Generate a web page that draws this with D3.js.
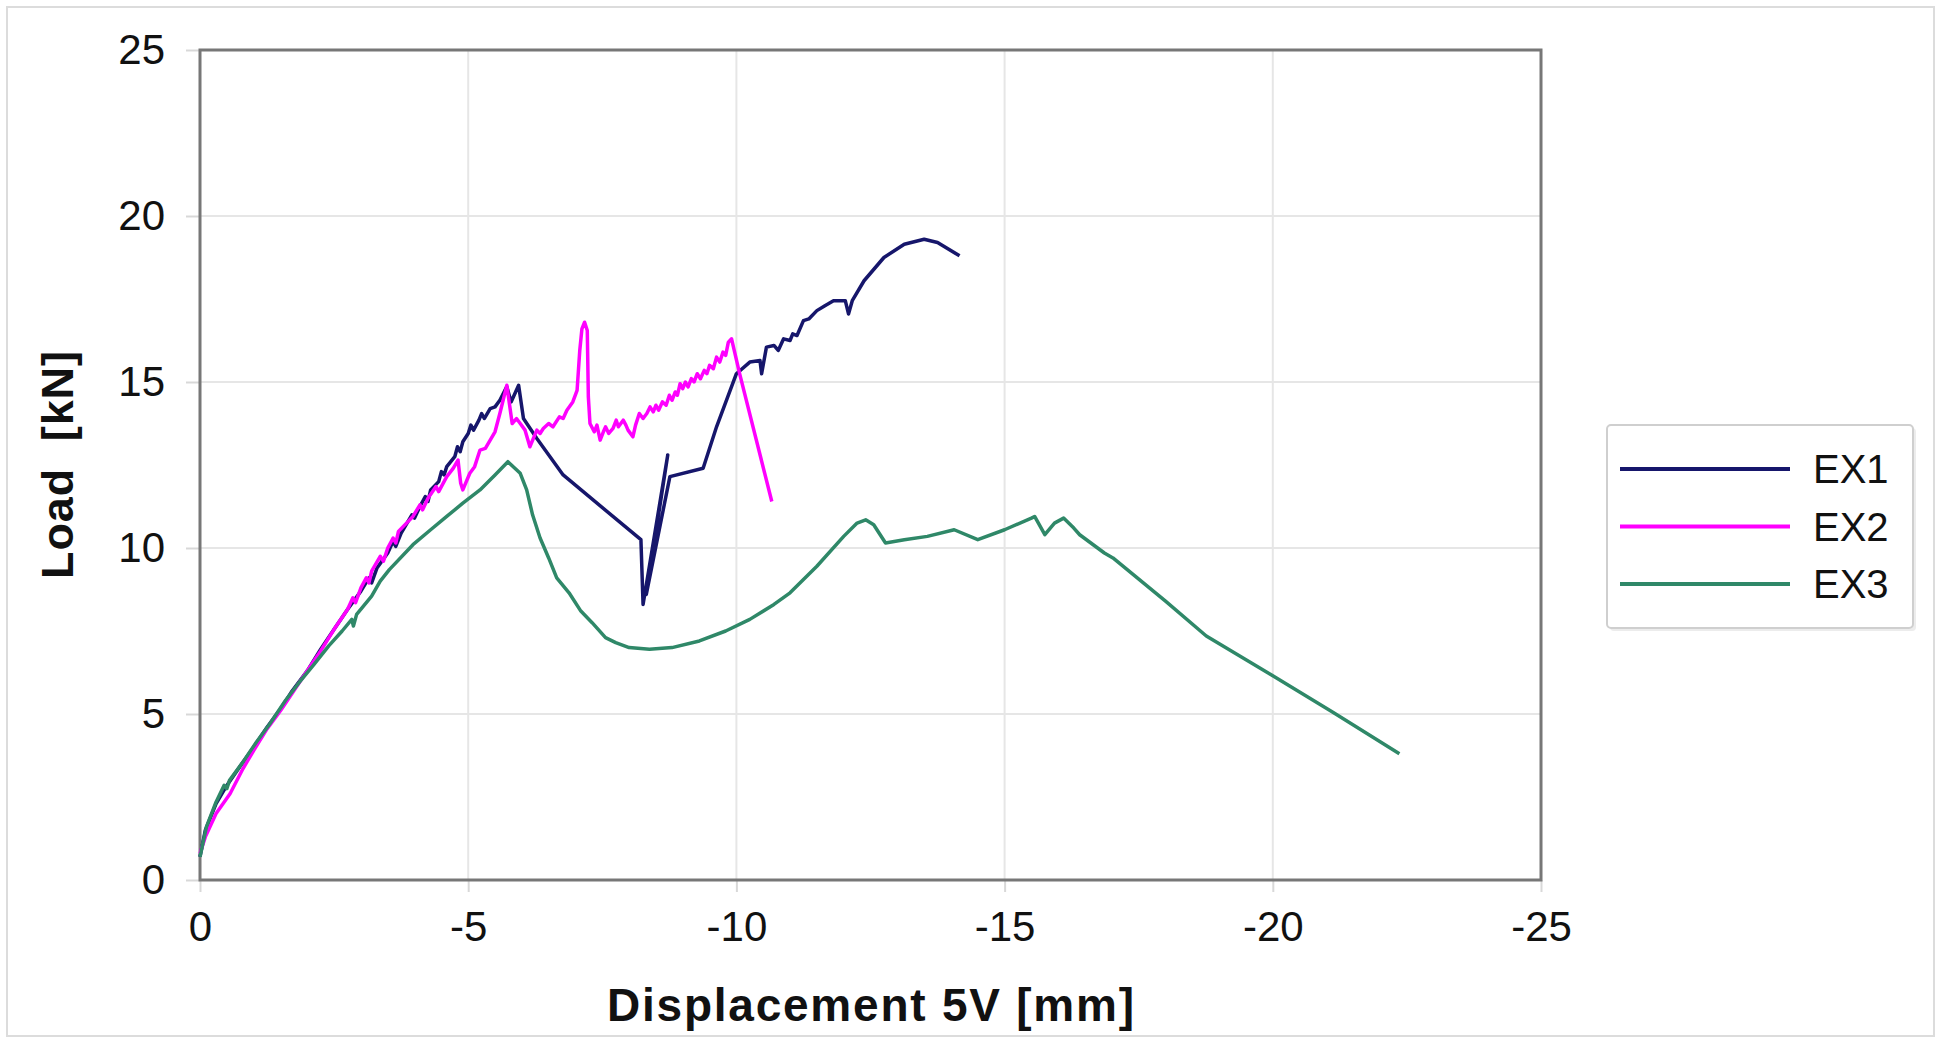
<!DOCTYPE html>
<html>
<head>
<meta charset="utf-8">
<script src="https://cdn.jsdelivr.net/npm/d3@7"></script>
<style>
  body { margin: 0; background: #fff; }
  text { font-family: "Liberation Sans", Arial, sans-serif; fill: #111; }
</style>
</head>
<body>
<div id="chart"></div>
<script>
var width = 1939,
    height = 1042;

// tick values
var xTicks = [0, -5, -10, -15, -20, -25];
var yTicks = [0, 5, 10, 15, 20, 25];

var seriesNames = ["EX1", "EX2", "EX3"];
var seriesColors = ["#16166b", "#ff00ff", "#2f8868"];

// [displacement, load]
var ex1 = [[0, 0.7], [-0.1, 1.5], [-0.3, 2.3], [-0.5, 2.85], [-0.8, 3.55], [-1.0, 4.0], [-1.25, 4.6],
    [-1.5, 5.15], [-1.7, 5.65], [-2.0, 6.3], [-2.25, 6.95], [-2.5, 7.55], [-2.75, 8.15], [-3.0, 8.7],
    [-3.15, 9.1], [-3.2, 8.95], [-3.3, 9.4], [-3.5, 9.85], [-3.6, 10.2], [-3.65, 10.05], [-3.75, 10.45],
    [-3.95, 11.0], [-4.0, 10.9], [-4.1, 11.25], [-4.2, 11.55], [-4.25, 11.4], [-4.3, 11.75], [-4.45, 12.0],
    [-4.5, 12.3], [-4.55, 12.2], [-4.6, 12.45], [-4.75, 12.75], [-4.8, 13.05], [-4.85, 12.9], [-4.9, 13.2],
    [-5.0, 13.45], [-5.05, 13.7], [-5.1, 13.55], [-5.2, 13.85], [-5.25, 14.05], [-5.3, 13.9], [-5.41, 14.2],
    [-5.5, 14.25], [-5.59, 14.45], [-5.72, 14.86], [-5.8, 14.4], [-5.94, 14.9], [-6.03, 13.9],
    [-6.28, 13.3], [-6.77, 12.2], [-8.22, 10.25], [-8.26, 8.3], [-8.72, 12.8], [-8.32, 8.6], [-8.76, 12.15],
    [-9.38, 12.4], [-9.63, 13.65], [-10.0, 15.25], [-10.25, 15.6], [-10.44, 15.65], [-10.47, 15.25],
    [-10.56, 16.05], [-10.7, 16.1], [-10.78, 15.95], [-10.88, 16.3], [-11.0, 16.25], [-11.05, 16.45],
    [-11.13, 16.4], [-11.25, 16.85], [-11.35, 16.9], [-11.5, 17.15], [-11.65, 17.3], [-11.81, 17.45],
    [-12.03, 17.45], [-12.09, 17.05], [-12.16, 17.45], [-12.38, 18.05], [-12.75, 18.75], [-13.13, 19.15],
    [-13.5, 19.3], [-13.75, 19.2], [-14.16, 18.8]];

var ex2 = [[0, 0.8], [-0.1, 1.3], [-0.3, 2.0], [-0.56, 2.6], [-0.8, 3.35], [-1.0, 3.9], [-1.25, 4.55],
    [-1.5, 5.1], [-1.75, 5.7], [-2.0, 6.3], [-2.25, 6.9], [-2.5, 7.55], [-2.75, 8.15], [-2.85, 8.5],
    [-2.9, 8.35], [-3.0, 8.8], [-3.1, 9.1], [-3.15, 8.95], [-3.2, 9.3], [-3.36, 9.75], [-3.42, 9.6],
    [-3.5, 10.0], [-3.6, 10.3], [-3.65, 10.15], [-3.7, 10.5], [-3.85, 10.75], [-3.97, 10.95], [-4.1, 11.3],
    [-4.15, 11.15], [-4.25, 11.5], [-4.4, 11.85], [-4.45, 11.7], [-4.6, 12.15], [-4.72, 12.4], [-4.81, 12.65],
    [-4.86, 11.95], [-4.9, 11.75], [-5.03, 12.25], [-5.12, 12.45], [-5.22, 12.95], [-5.32, 13.0], [-5.41, 13.25],
    [-5.5, 13.5], [-5.59, 14.05], [-5.72, 14.9], [-5.82, 13.75], [-5.9, 13.9], [-5.97, 13.75], [-6.06, 13.55],
    [-6.15, 13.05], [-6.28, 13.55], [-6.34, 13.45], [-6.4, 13.6], [-6.5, 13.75], [-6.58, 13.65], [-6.7, 13.95],
    [-6.77, 13.9], [-6.84, 14.15], [-6.95, 14.4], [-7.03, 14.75], [-7.08, 15.95], [-7.12, 16.6], [-7.17, 16.8],
    [-7.22, 16.55], [-7.24, 14.55], [-7.27, 13.75], [-7.35, 13.5], [-7.4, 13.7], [-7.46, 13.25], [-7.52, 13.5],
    [-7.56, 13.65], [-7.62, 13.45], [-7.7, 13.6], [-7.76, 13.85], [-7.8, 13.65], [-7.89, 13.85], [-7.94, 13.7],
    [-7.98, 13.55], [-8.07, 13.35], [-8.12, 13.7], [-8.19, 14.05], [-8.26, 13.9], [-8.33, 14.05],
    [-8.39, 14.25], [-8.45, 14.1], [-8.5, 14.3], [-8.55, 14.15], [-8.62, 14.4], [-8.69, 14.3], [-8.75, 14.6],
    [-8.8, 14.45], [-8.86, 14.7], [-8.9, 14.6], [-8.95, 14.95], [-9.0, 14.8], [-9.05, 15.0], [-9.1, 14.85],
    [-9.16, 15.1], [-9.21, 15.0], [-9.27, 15.25], [-9.33, 15.1], [-9.4, 15.35], [-9.45, 15.25], [-9.5, 15.5],
    [-9.57, 15.4], [-9.63, 15.75], [-9.69, 15.6], [-9.75, 15.9], [-9.8, 15.8], [-9.85, 16.2], [-9.91, 16.3],
    [-10.06, 15.25], [-10.66, 11.4]];

var ex3 = [[0, 0.7], [-0.12, 1.6], [-0.3, 2.35], [-0.45, 2.85], [-0.5, 2.75], [-0.55, 3.0], [-0.8, 3.55],
    [-1.05, 4.15], [-1.3, 4.7], [-1.59, 5.4], [-1.85, 5.95], [-2.13, 6.5], [-2.4, 7.05], [-2.65, 7.5],
    [-2.83, 7.85], [-2.86, 7.65], [-2.92, 8.0], [-3.2, 8.55], [-3.36, 9.0], [-3.53, 9.35], [-3.97, 10.1],
    [-4.3, 10.55], [-4.6, 10.95], [-4.9, 11.35], [-5.22, 11.75], [-5.5, 12.2], [-5.74, 12.6], [-5.97, 12.25],
    [-6.09, 11.75], [-6.2, 11.0], [-6.34, 10.3], [-6.5, 9.7], [-6.65, 9.1], [-6.88, 8.65], [-7.1, 8.1],
    [-7.31, 7.75], [-7.56, 7.3], [-7.75, 7.15], [-8.0, 7.0], [-8.38, 6.95], [-8.8, 7.0], [-9.31, 7.2],
    [-9.8, 7.5], [-10.25, 7.85], [-10.7, 8.3], [-11.0, 8.65], [-11.5, 9.45], [-12.0, 10.35], [-12.25, 10.75],
    [-12.41, 10.85], [-12.56, 10.7], [-12.78, 10.15], [-13.13, 10.25], [-13.56, 10.35], [-14.06, 10.55],
    [-14.5, 10.25], [-15.0, 10.55], [-15.5, 10.9], [-15.56, 10.95], [-15.75, 10.4], [-15.93, 10.75],
    [-16.1, 10.9], [-16.29, 10.6], [-16.4, 10.4], [-16.86, 9.85], [-17.02, 9.7], [-18.0, 8.4], [-18.76, 7.35],
    [-20.0, 6.15], [-21.12, 5.05], [-22.36, 3.8]];

var series = [ex1, ex2, ex3];

var margin = {left: 200, top: 50, right: 1541, bottom: 880};

var svg = d3.select("#chart")
    .append("svg")
    .attr("width", width)
    .attr("height", height);

// outer frame
svg.append("rect")
    .attr("x", 7).attr("y", 7)
    .attr("width", 1927).attr("height", 1029)
    .attr("fill", "#fff")
    .attr("stroke", "#dcdcdc")
    .attr("stroke-width", 2);

var x = d3.scaleLinear().domain([0, -25]).range([margin.left, margin.right]);
var y = d3.scaleLinear().domain([0, 25]).range([margin.bottom, margin.top]);

// grid
svg.append("g").selectAll("line")
    .data(yTicks.slice(1, -1))
    .enter().append("line")
    .attr("x1", margin.left).attr("x2", margin.right)
    .attr("y1", function(d) { return y(d); })
    .attr("y2", function(d) { return y(d); })
    .attr("stroke", "#e6e6e6")
    .attr("stroke-width", 2);

svg.append("g").selectAll("line")
    .data(xTicks.slice(1, -1))
    .enter().append("line")
    .attr("y1", margin.top).attr("y2", margin.bottom)
    .attr("x1", function(d) { return x(d); })
    .attr("x2", function(d) { return x(d); })
    .attr("stroke", "#e6e6e6")
    .attr("stroke-width", 2);

// axes
var xAxis = d3.axisBottom(x)
    .tickValues(xTicks)
    .tickFormat(function(d) { return String(d); })
    .tickSizeInner(12)
    .tickSizeOuter(0)
    .tickPadding(19);

var yAxis = d3.axisLeft(y)
    .tickValues(yTicks)
    .tickFormat(function(d) { return String(d); })
    .tickSizeInner(14)
    .tickSizeOuter(0)
    .tickPadding(21);

var gx = svg.append("g")
    .attr("transform", "translate(0," + margin.bottom + ")")
    .call(xAxis);
var gy = svg.append("g")
    .attr("transform", "translate(" + margin.left + ",0)")
    .call(yAxis);

[gx, gy].forEach(function(g) {
    g.select(".domain").remove();
    g.selectAll(".tick line").attr("stroke", "#d8d8d8").attr("stroke-width", 2);
    g.selectAll(".tick text")
        .attr("font-size", 42)
        .attr("fill", "#111")
        .style("font-family", "'Liberation Sans', Arial, sans-serif");
});

// plot border
svg.append("rect")
    .attr("x", margin.left).attr("y", margin.top)
    .attr("width", margin.right - margin.left)
    .attr("height", margin.bottom - margin.top)
    .attr("fill", "none")
    .attr("stroke", "#777")
    .attr("stroke-width", 3);

var line = d3.line()
    .x(function(d) { return x(d[0]); })
    .y(function(d) { return y(d[1]); });

svg.append("g").selectAll("path")
    .data(series)
    .enter().append("path")
    .attr("d", line)
    .attr("fill", "none")
    .attr("stroke", function(d, i) { return seriesColors[i]; })
    .attr("stroke-width", 3.5)
    .attr("stroke-linejoin", "round");

// axis titles
svg.append("text")
    .attr("x", (margin.left + margin.right) / 2)
    .attr("y", 1021)
    .attr("text-anchor", "middle")
    .attr("font-size", 46)
    .attr("font-weight", "bold")
    .attr("textLength", 527)
    .attr("lengthAdjust", "spacing")
    .text("Displacement 5V [mm]");

svg.append("text")
    .attr("transform", "translate(73," + ((margin.top + margin.bottom) / 2) + ") rotate(-90)")
    .attr("text-anchor", "middle")
    .attr("font-size", 45)
    .attr("font-weight", "bold")
    .attr("textLength", 228)
    .attr("lengthAdjust", "spacing")
    .attr("xml:space", "preserve")
    .style("white-space", "pre")
    .text("Load  [kN]");

// legend
var legend = svg.append("g");
legend.append("rect")
    .attr("x", 1610).attr("y", 428)
    .attr("width", 306).attr("height", 203)
    .attr("rx", 4)
    .attr("fill", "#ececec");
legend.append("rect")
    .attr("x", 1607).attr("y", 425)
    .attr("width", 306).attr("height", 203)
    .attr("rx", 4)
    .attr("fill", "#fff")
    .attr("stroke", "#cfcfcf")
    .attr("stroke-width", 2);

var items = legend.selectAll(".item")
    .data(seriesNames)
    .enter().append("g")
    .attr("class", "item")
    .attr("transform", function(d, i) { return "translate(0," + (469 + i * 57.5) + ")"; });

items.append("line")
    .attr("x1", 1620).attr("x2", 1790)
    .attr("stroke", function(d, i) { return seriesColors[i]; })
    .attr("stroke-width", 4);

items.append("text")
    .attr("x", 1813)
    .attr("dy", "0.36em")
    .attr("font-size", 40)
    .text(function(d) { return d; });
</script>
</body>
</html>
